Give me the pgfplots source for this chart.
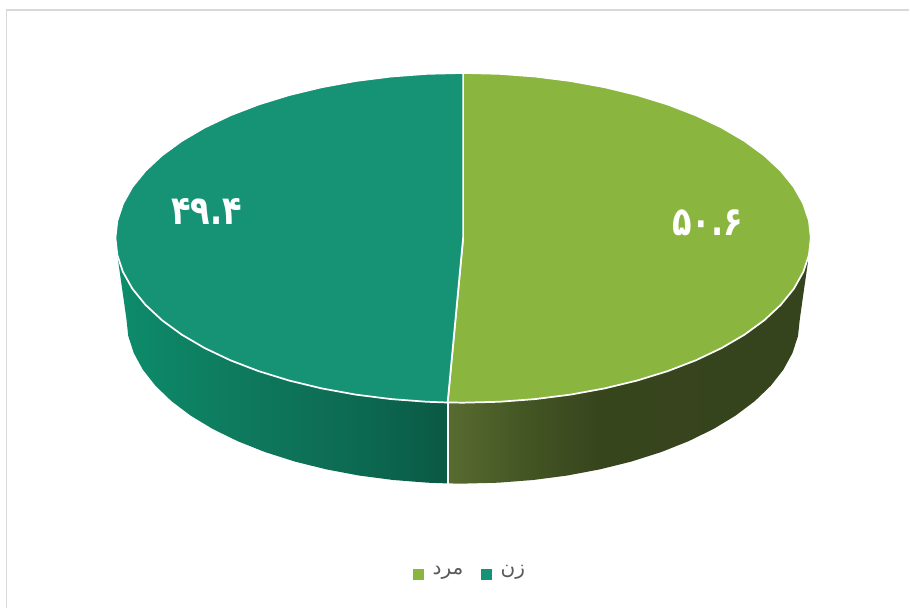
\documentclass[border=0pt]{standalone}
\usepackage{fontspec}
\usepackage{pgfplots}
\usepackage{pgfplotstable}
\pgfplotsset{compat=1.18}
\TeXXeTstate=1
\newfontfamily\arabicfont[Script=Arabic]{DejaVu Sans}
\definecolor{mgreen}{HTML}{8AB63F}
\definecolor{mteal}{HTML}{169375}
\definecolor{legtext}{HTML}{595959}
\definecolor{frameg}{HTML}{D9D9D9}
\pgfdeclarehorizontalshading{sideR}{100bp}{rgb(0bp)=(.345,.42,.19); rgb(25bp)=(.345,.42,.19); rgb(35bp)=(.27,.34,.14); rgb(46bp)=(.215,.27,.115); rgb(100bp)=(.21,.26,.11)}
\pgfdeclarehorizontalshading{sideL}{100bp}{rgb(0bp)=(.05,.55,.42); rgb(25bp)=(.05,.55,.42); rgb(40bp)=(.055,.49,.375); rgb(60bp)=(.05,.42,.325); rgb(75bp)=(.04,.35,.27); rgb(100bp)=(.04,.35,.27)}
% unit-circle outline of each slice: s = horizontal, c = vertical, k = 0 top face, 1 bottom face
\pgfplotstableread{
s c
0 0
0 1
.1045 .9945
.2079 .9781
.3090 .9511
.4067 .9135
.5 .8660
.5878 .8090
.6691 .7431
.7431 .6691
.8090 .5878
.8660 .5
.9135 .4067
.9511 .3090
.9781 .2079
.9945 .1045
1 0
.9945 -.1045
.9781 -.2079
.9511 -.3090
.9135 -.4067
.8660 -.5
.8090 -.5878
.7431 -.6691
.6691 -.7431
.5878 -.8090
.5 -.8660
.4067 -.9135
.3090 -.9511
.2079 -.9781
.1045 -.9945
0 -1
-.0445 -.999
0 0
}\tabMale
\pgfplotstableread{
s c
0 0
-.0445 -.999
-.1045 -.9945
-.2079 -.9781
-.3090 -.9511
-.4067 -.9135
-.5 -.8660
-.5878 -.8090
-.6691 -.7431
-.7431 -.6691
-.8090 -.5878
-.8660 -.5
-.9135 -.4067
-.9511 -.3090
-.9781 -.2079
-.9945 -.1045
-1 0
-.9945 .1045
-.9781 .2079
-.9511 .3090
-.9135 .4067
-.8660 .5
-.8090 .5878
-.7431 .6691
-.6691 .7431
-.5878 .8090
-.5 .8660
-.4067 .9135
-.3090 .9511
-.2079 .9781
-.1045 .9945
0 1
0 0
}\tabFemale
\pgfplotstableread{
s c k
.9945 -.1045 0
.9781 -.2079 0
.9511 -.3090 0
.9135 -.4067 0
.8660 -.5 0
.8090 -.5878 0
.7431 -.6691 0
.6691 -.7431 0
.5878 -.8090 0
.5 -.8660 0
.4067 -.9135 0
.3090 -.9511 0
.2079 -.9781 0
.1045 -.9945 0
0 -1 0
-.0445 -.999 0
-.0445 -.999 1
0 -1 1
.1045 -.9945 1
.2079 -.9781 1
.3090 -.9511 1
.4067 -.9135 1
.5 -.8660 1
.5878 -.8090 1
.6691 -.7431 1
.7431 -.6691 1
.8090 -.5878 1
.8660 -.5 1
.9135 -.4067 1
.9511 -.3090 1
.9781 -.2079 1
.9945 -.1045 1
1 0 1
}\sideMale
\pgfplotstableread{
s c k
-.0445 -.999 0
-.1045 -.9945 0
-.2079 -.9781 0
-.3090 -.9511 0
-.4067 -.9135 0
-.5 -.8660 0
-.5878 -.8090 0
-.6691 -.7431 0
-.7431 -.6691 0
-.8090 -.5878 0
-.8660 -.5 0
-.9135 -.4067 0
-.9511 -.3090 0
-.9781 -.2079 0
-.9945 -.1045 0
-1 0 1
-.9945 -.1045 1
-.9781 -.2079 1
-.9511 -.3090 1
-.9135 -.4067 1
-.8660 -.5 1
-.8090 -.5878 1
-.7431 -.6691 1
-.6691 -.7431 1
-.5878 -.8090 1
-.5 -.8660 1
-.4067 -.9135 1
-.3090 -.9511 1
-.2079 -.9781 1
-.1045 -.9945 1
-.0445 -.999 1
}\sideFemale
\begin{document}
\begin{tikzpicture}
\begin{axis}[
  scale only axis, width=682.5pt, height=456pt,
  xmin=0, xmax=910, ymin=0, ymax=608, y dir=reverse,
  hide axis, clip=false,
  legend style={at={(axis cs:470.5,572)},anchor=center,draw=none,fill=none,
    legend columns=2,
    font=\fontsize{15pt}{17pt}\selectfont\color{legtext},
    /tikz/every even column/.append style={column sep=11pt},
    /tikz/every odd column/.append style={column sep=4.5pt},
    inner sep=0pt},
  legend image code/.code={\fill[#1,draw=none] (0pt,-6.75pt) rectangle (8.5pt,1.75pt);},
]
\path (axis cs:0,0) (axis cs:910,608);
% chart frame
\addplot[frameg, line width=1.1pt, forget plot] coordinates {(910,10) (6.5,10) (6.5,608)};
% sides of the drum
\addplot[draw=none, shade, shading=sideR, forget plot] table[x expr=463.5+(348-11*\thisrow{k})*\thisrow{s}, y expr=238+81*\thisrow{k}-165*\thisrow{c}] {\sideMale};
\addplot[draw=none, shade, shading=sideL, forget plot] table[x expr=463.5+(348-11*\thisrow{k})*\thisrow{s}, y expr=238+81*\thisrow{k}-165*\thisrow{c}] {\sideFemale};
\addplot[white, line width=1.3pt, forget plot] coordinates {(448.4,403) (448.4,484)};
% top faces
\addplot[fill=mgreen, draw=white, line width=1.3pt] table[x expr=463.5+348*\thisrow{s}, y expr=238-165*\thisrow{c}] {\tabMale};
\addlegendentry{\arabicfont\beginR مرد\endR}
\addplot[fill=mteal, draw=white, line width=1.3pt] table[x expr=463.5+348*\thisrow{s}, y expr=238-165*\thisrow{c}] {\tabFemale};
\addlegendentry{\arabicfont\beginR زن\endR}
\node[white,font=\arabicfont\bfseries\fontsize{30pt}{32pt}\selectfont,inner sep=0pt,xscale=.8] at (axis cs:207,212) {۴۹.۴};
\node[white,font=\arabicfont\bfseries\fontsize{30pt}{32pt}\selectfont,inner sep=0pt,xscale=.8] at (axis cs:708,223) {۵۰.۶};
\end{axis}
\end{tikzpicture}
\end{document}
